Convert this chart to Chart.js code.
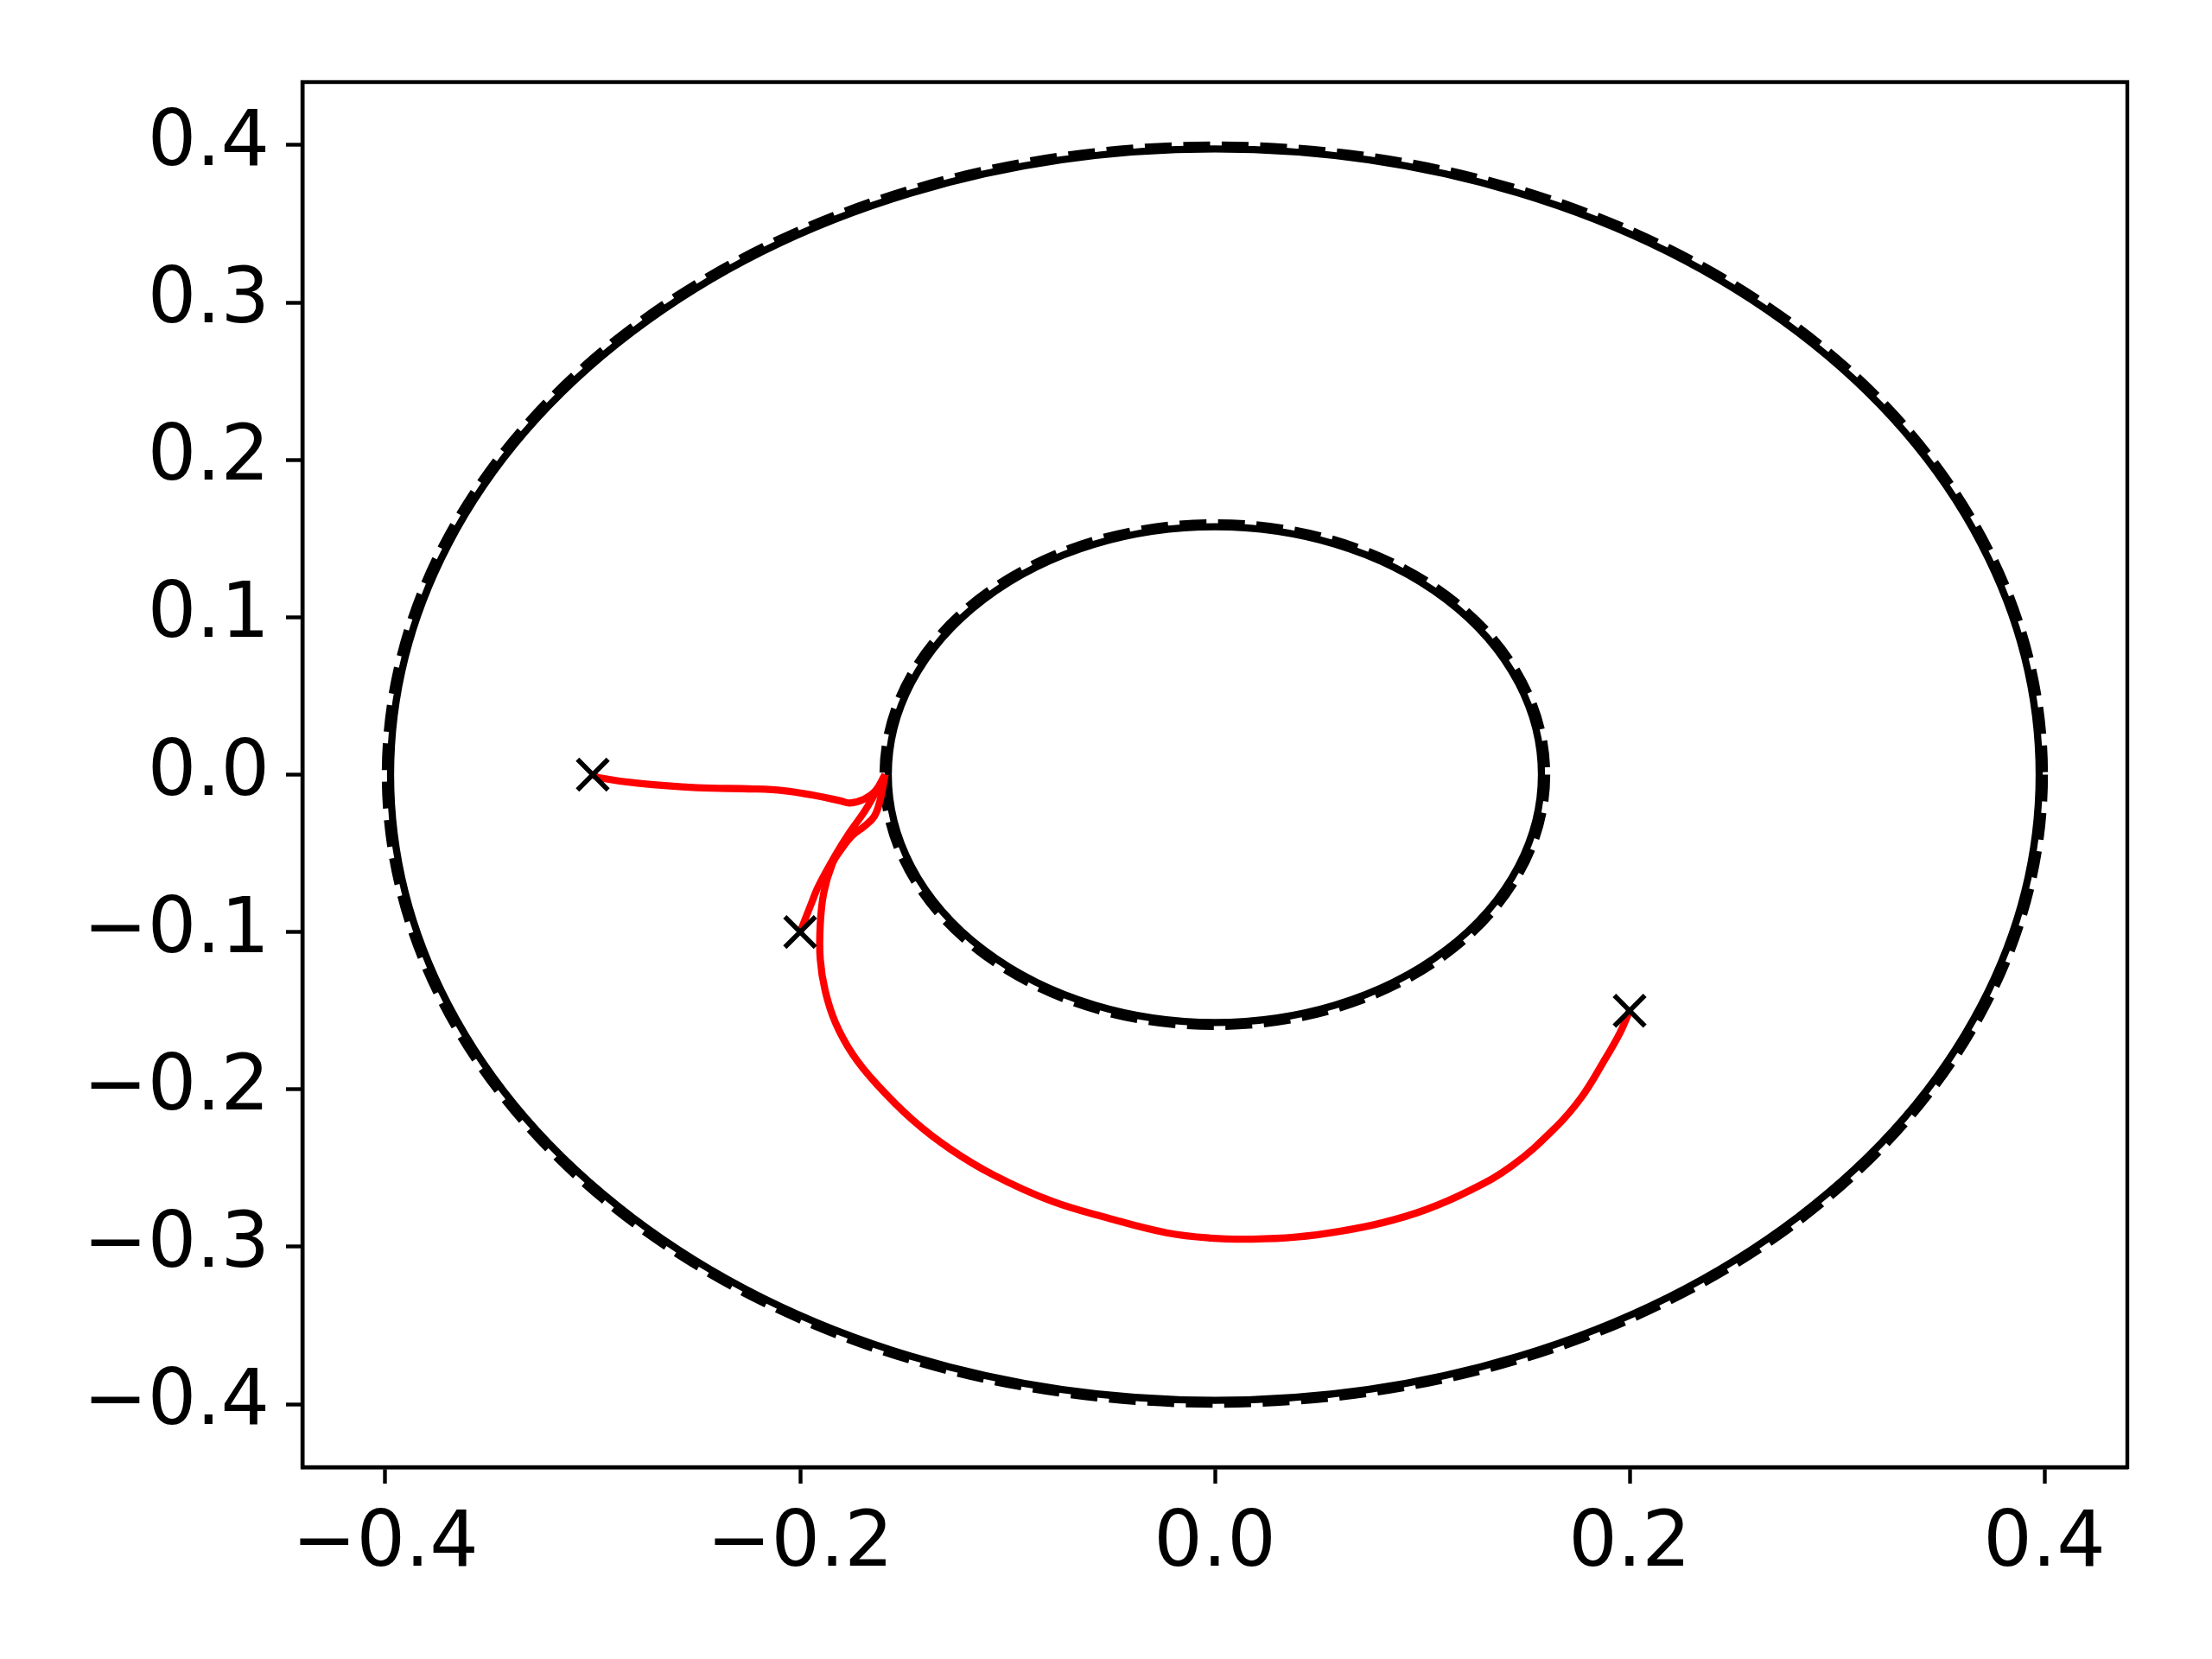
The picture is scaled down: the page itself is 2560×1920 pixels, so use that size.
<!DOCTYPE html>
<html>
<head>
<meta charset="utf-8">
<script src="https://cdn.jsdelivr.net/npm/chart.js@4/dist/chart.umd.min.js"></script>
<style>
html,body{margin:0;padding:0;background:#fff;}
canvas{display:block;}
</style>
</head>
<body>
<canvas id="c" width="2560" height="1920"></canvas>
<script>
// ---- data ----
const xTicks = [-0.4, -0.2, 0.0, 0.2, 0.4];
const yTicks = [-0.4, -0.3, -0.2, -0.1, 0.0, 0.1, 0.2, 0.3, 0.4];
const axisMin = -0.44, axisMax = 0.44;

// circles centred at the origin: dashed walls and solid boundaries (radii)
const wallRadii = [0.4, 0.16];
const boundaryRadii = [0.3975, 0.1575];

// start points (x markers)
const startX = [-0.3, -0.2, 0.2];
const startY = [0.0, -0.1, -0.15];

// trajectory 1: from (-0.3, 0)
const traj1X = [-0.300, -0.2971, -0.2775, -0.2497, -0.2221, -0.2079, -0.1942, -0.1804, -0.1761, -0.1692, -0.1636, -0.1590];
const traj1Y = [ 0.000, -0.0019, -0.0056, -0.0083, -0.0091, -0.0102, -0.0129, -0.0167, -0.0180, -0.0156, -0.0102,  0.0000];

// trajectory 2: from (-0.2, -0.1)
const traj2X = [-0.200, -0.1942, -0.1914, -0.1830, -0.1761, -0.1692, -0.1650, -0.1590];
const traj2Y = [-0.100, -0.0806, -0.0715, -0.0513, -0.0367, -0.0239, -0.0147,  0.0000];

// trajectory 3: from (0.2, -0.15)
const traj3X = [0.2000, 0.1954, 0.1871, 0.1767, 0.1642, 0.1433, 0.1225, 0.1017, 0.0808, 0.0600, 0.0392, 0.0183, -0.0025, -0.0233, -0.0511, -0.0789, -0.1067, -0.1275, -0.1455, -0.1636, -0.1747, -0.1830, -0.1879, -0.1903, -0.1903, -0.1886, -0.1845, -0.1803, -0.1747, -0.1692, -0.1643, -0.1615, -0.1590];
const traj3Y = [-0.1500, -0.1639, -0.1831, -0.2051, -0.2243, -0.2485, -0.2645, -0.2764, -0.2847, -0.2902, -0.2938, -0.2951, -0.2944, -0.2911, -0.2819, -0.2709, -0.2544, -0.2380, -0.2197, -0.1959, -0.1776, -0.1575, -0.1374, -0.1172, -0.0953, -0.0751, -0.0568, -0.0477, -0.0385, -0.0330, -0.0266, -0.0166, 0.0000];

// ---- helpers ----
const pts = (xs, ys) => xs.map((x, i) => ({x: x, y: ys[i]}));
const fmt = v => {
  const s = Number(v).toFixed(1);
  return s.startsWith('-') ? '\u2212' + s.slice(1) : s;
};

const FONT = {family: 'DejaVu Sans', size: 88.9};

const circlesPlugin = {
  id: 'circles',
  beforeDatasetsDraw(chart) {
    const {ctx, chartArea, scales} = chart;
    const xs = scales.x, ys = scales.y;
    const cx = xs.getPixelForValue(0), cy = ys.getPixelForValue(0);
    ctx.save();
    ctx.beginPath();
    ctx.rect(chartArea.left, chartArea.top, chartArea.right - chartArea.left, chartArea.bottom - chartArea.top);
    ctx.clip();
    ctx.strokeStyle = '#000';
    ctx.lineWidth = 8.3;
    ctx.lineCap = 'butt';
    // solid boundaries
    ctx.setLineDash([]);
    boundaryRadii.forEach(r => {
      const rx = xs.getPixelForValue(r) - cx;
      const ry = cy - ys.getPixelForValue(r);
      ctx.beginPath();
      ctx.ellipse(cx, cy, rx, ry, 0, 0, Math.PI * 2);
      ctx.stroke();
    });
    // dashed walls
    ctx.setLineDash([31, 13.5]);
    wallRadii.forEach(r => {
      const rx = xs.getPixelForValue(r) - cx;
      const ry = cy - ys.getPixelForValue(r);
      ctx.beginPath();
      ctx.ellipse(cx, cy, rx, ry, 0, 0, Math.PI * 2);
      ctx.stroke();
    });
    ctx.restore();
  },
  afterDraw(chart) {
    const {ctx, chartArea} = chart;
    ctx.save();
    ctx.strokeStyle = '#000';
    ctx.lineWidth = 4.4;
    ctx.setLineDash([]);
    ctx.strokeRect(chartArea.left, chartArea.top, chartArea.right - chartArea.left, chartArea.bottom - chartArea.top);
    ctx.restore();
  }
};

const redLine = (xs, ys) => ({
  type: 'scatter',
  data: pts(xs, ys),
  showLine: true,
  borderColor: '#ff0000',
  backgroundColor: '#ff0000',
  borderWidth: 8.3,
  borderJoinStyle: 'round',
  pointRadius: 0,
  pointHoverRadius: 0,
  tension: 0.4,
  fill: false
});

new Chart(document.getElementById('c'), {
  type: 'scatter',
  data: {
    datasets: [
      {
        data: pts(startX, startY),
        pointStyle: 'crossRot',
        pointRadius: 25,
        pointHoverRadius: 25,
        pointBorderWidth: 5.6,
        borderColor: '#000',
        backgroundColor: '#000',
        showLine: false
      },
      redLine(traj1X, traj1Y),
      redLine(traj2X, traj2Y),
      redLine(traj3X, traj3Y)
    ]
  },
  options: {
    responsive: false,
    animation: false,
    devicePixelRatio: 1,
    layout: {padding: {left: 0, top: 95, right: 98, bottom: 0}},
    plugins: {legend: {display: false}, tooltip: {enabled: false}},
    scales: {
      x: {
        type: 'linear',
        min: axisMin, max: axisMax,
        afterBuildTicks: s => { s.ticks = xTicks.map(v => ({value: v})); },
        afterFit: s => { s.height = 222; },
        ticks: {font: FONT, color: '#000', padding: 19, maxRotation: 0, autoSkip: false, callback: v => fmt(v)},
        grid: {drawOnChartArea: false, drawTicks: true, tickLength: 19, tickWidth: 4.4, tickColor: '#000'},
        border: {display: true, color: '#000', width: 4.4}
      },
      y: {
        type: 'linear',
        min: axisMin, max: axisMax,
        afterBuildTicks: s => { s.ticks = yTicks.map(v => ({value: v})); },
        afterFit: s => { s.width = 350; },
        ticks: {font: FONT, color: '#000', padding: 19, autoSkip: false, callback: v => fmt(v)},
        grid: {drawOnChartArea: false, drawTicks: true, tickLength: 19, tickWidth: 4.4, tickColor: '#000'},
        border: {display: true, color: '#000', width: 4.4}
      }
    }
  },
  plugins: [circlesPlugin]
});
</script>
</body>
</html>
